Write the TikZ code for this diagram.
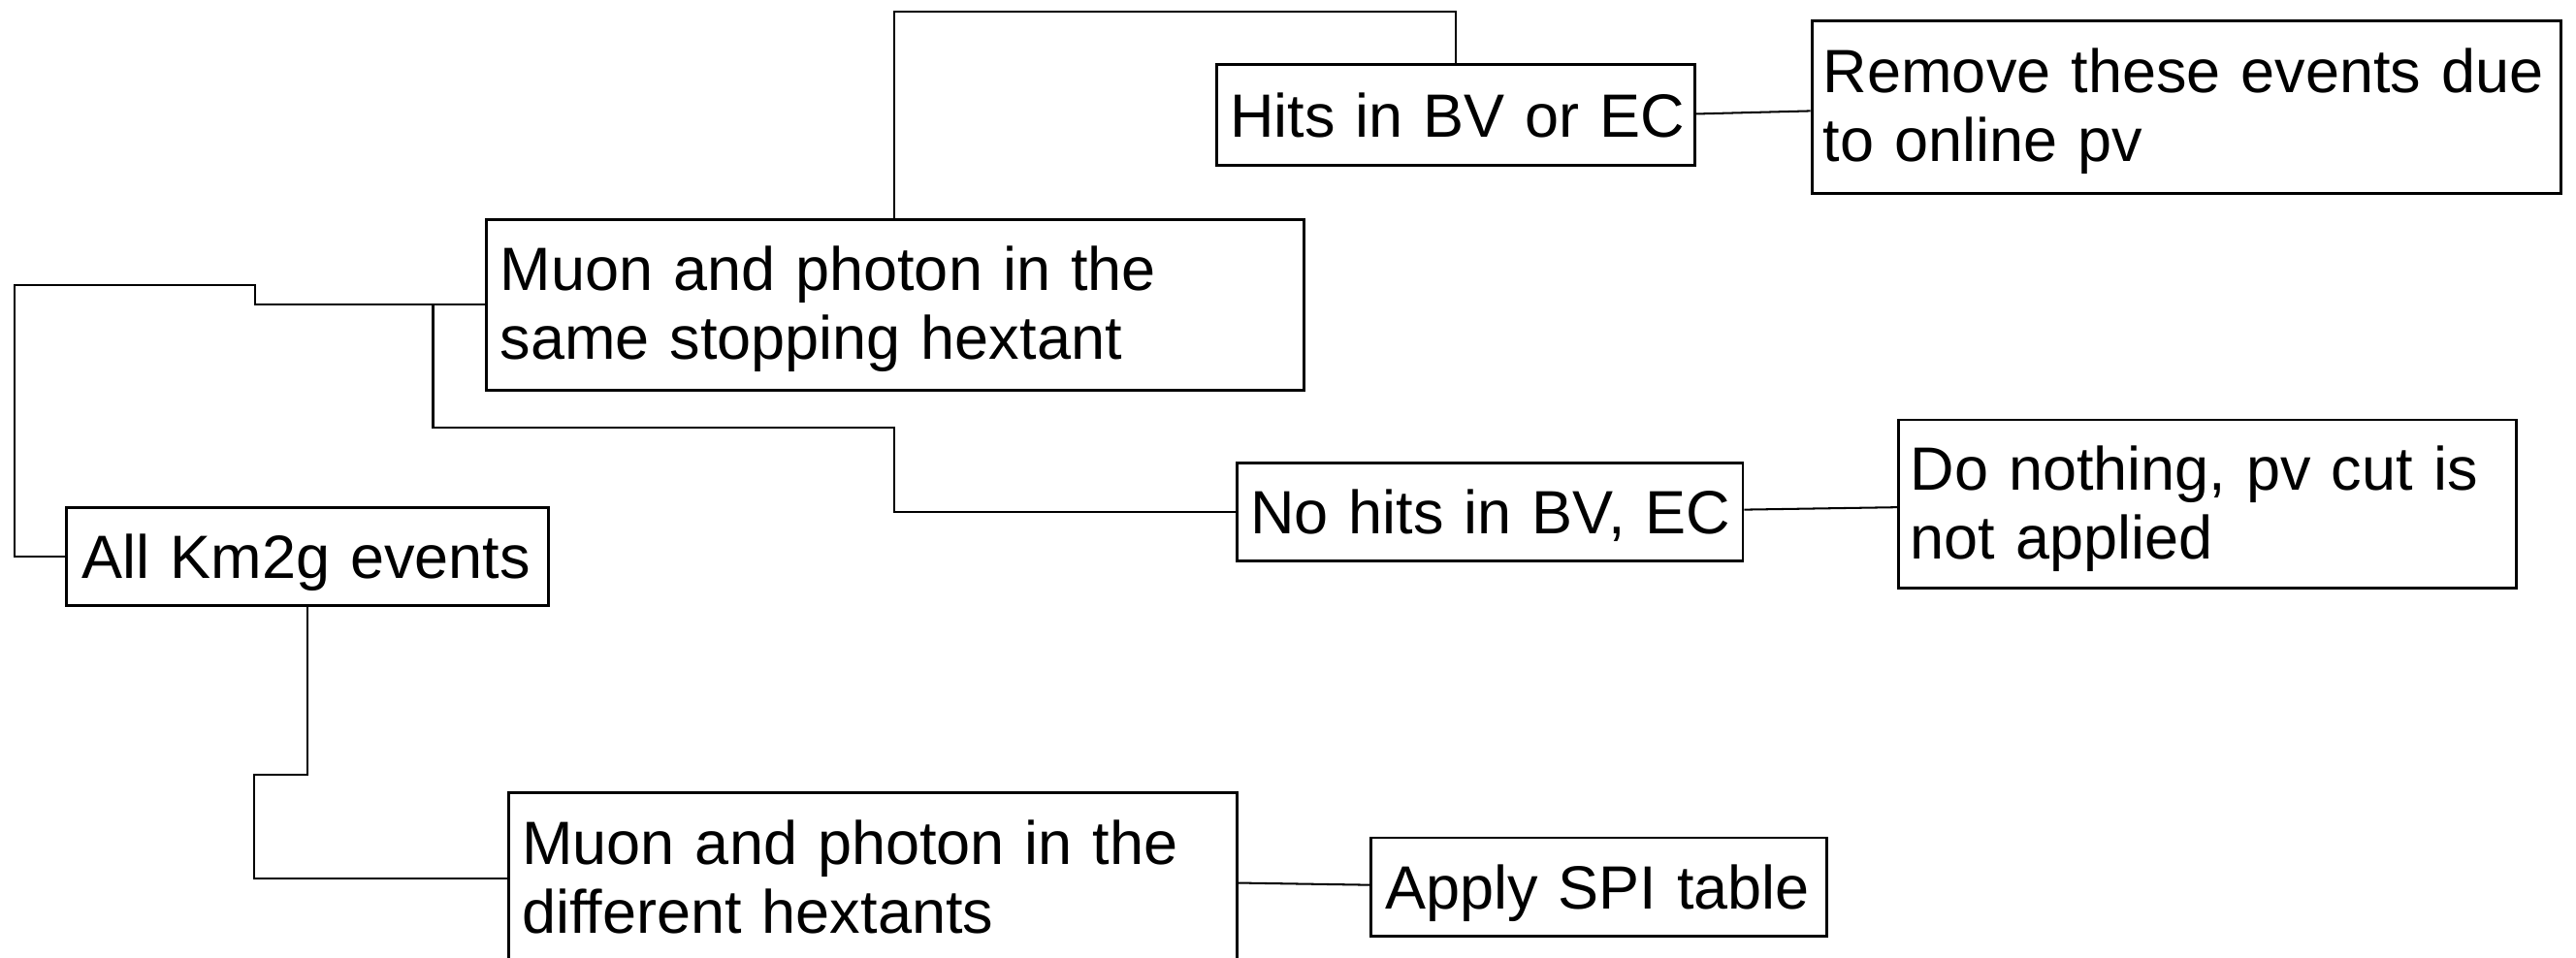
\documentclass[tikz,border=0pt]{standalone}
\usepackage{fontspec}
\setmainfont{Liberation Sans}
\begin{document}
\begin{tikzpicture}[x=1pt,y=-1pt,
  font=\fontsize{37.2}{42}\selectfont,
  box/.style={draw, line width=1.7pt, anchor=north west, align=left,
    inner xsep=8.5pt, inner ysep=0pt},
  one/.style={text height=26.6pt, text depth=0pt},
  two/.style={text height=26.6pt, text depth=44pt},
  conn/.style={line width=1.2pt}]
\clip (0,0) rectangle (1568,583);
\fill[white] (0,0) rectangle (1568,583);
% boxes
\node[box, one, inner xsep=9.5pt, text width=274.2pt, minimum height=59.6pt] (km) at (39.7,308) {\mbox{All Km2g events}};
\node[box, two, inner xsep=8.6pt, text width=480.6pt, minimum height=103.9pt] (m1) at (295,132.8) {\mbox{Muon and photon in the}\\\mbox{same stopping hextant}};
\node[box, one, inner xsep=8.4pt, text width=274.4pt, minimum height=61.6pt] (hits) at (739.5,38.4) {\mbox{Hits in BV or EC}};
\node[box, two, inner xsep=7pt, text width=442pt, minimum height=105.2pt] (rem) at (1102,11.8) {\mbox{Remove these events due}\\\mbox{to online pv}};
\node[box, one, inner xsep=8pt, text width=291.8pt, minimum height=59.7pt] (nohits) at (752.2,281) {\mbox{No hits in BV, EC}};
\node[box, two, inner xsep=7pt, text width=361.6pt, minimum height=102.4pt] (dono) at (1155,254.8) {\mbox{Do nothing, pv cut is}\\\mbox{not applied}};
\node[box, two, inner xsep=8pt, text width=427pt, minimum height=104pt] (m2) at (309,482) {\mbox{Muon and photon in the}\\\mbox{different hextants}};
\node[box, one, inner xsep=8.5pt, text width=260.5pt, minimum height=59.9pt] (spi) at (833.7,509.2) {\mbox{Apply SPI table}};
% connectors
\draw[conn] (km.west) -| (8.6,173.7) -| (155,0 |- m1.west) -- (m1.west);
\draw[conn] (263.6,0 |- m1.west) |- (544.3,260.1) |- (nohits.west);
\draw[conn] (544.3,0 |- m1.north) -- (544.3,7.1) -| (hits.north);
\draw[conn] ([yshift=0.7pt]hits.east) -- ([yshift=-2.3pt]rem.west);
\draw[conn] ([yshift=1.4pt]nohits.east) -- ([yshift=-2pt]dono.west);
\draw[conn] (km.south) |- (154.6,471.6) |- (m2.west);
\draw[conn] ([yshift=-2.7pt]m2.east) -- ([yshift=1.2pt]spi.west);
\end{tikzpicture}
\end{document}
